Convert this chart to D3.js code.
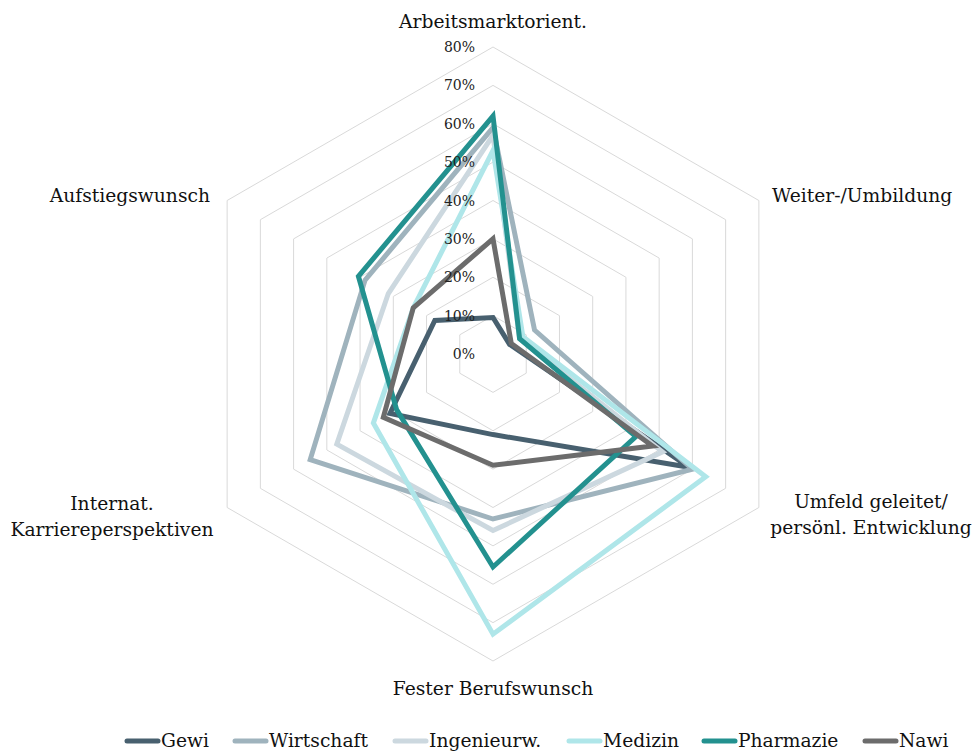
<!DOCTYPE html>
<meta charset="utf-8">
<title>Radar</title>
<style>
  body { margin: 0; background: #fff; }
  svg { display: block; font-family: "DejaVu Serif", serif; }
  .ring { fill: none; stroke: #d9d9d9; stroke-width: 1; }
  .tick { font-size: 14px; fill: #222; }
  .cat { font-size: 18.7px; fill: #111; }
  .leg { font-size: 18.7px; fill: #111; }
</style>
<body>
<svg id="chart" width="976" height="754"></svg>
<script src="https://d3js.org/d3.v7.min.js"></script>
<script>
// axes, clockwise from top
var categories = ["Arbeitsmarktorient.", "Weiter-/Umbildung", "Umfeld geleitet/\npersönl. Entwicklung",
                  "Fester Berufswunsch", "Internat.\nKarriereperspektiven", "Aufstiegswunsch"];
var tickLabels = ["0%", "10%", "20%", "30%", "40%", "50%", "60%", "70%", "80%"];
var seriesNames = ["Gewi", "Wirtschaft", "Ingenieurw.", "Medizin", "Pharmazie", "Nawi"];
// values in percent
var gewi       = [9.5, 5, 59, 21, 31, 17.5];
var wirtschaft = [59, 12.5, 60, 43, 55, 38.5];
var ingenieurw = [57, 8, 51, 46, 47, 31.5];
var medizin    = [53, 9, 64, 73, 36, 24];
var pharmazie  = [62, 8, 43, 55.5, 29, 40.5];
var nawi       = [30, 5.5, 48, 29, 33, 24];

var colors = ["#48606f", "#9fb3bd", "#ccd8df", "#afe6e9", "#23918f", "#6c6c6c"];
var allSeries = [gewi, wirtschaft, ingenieurw, medizin, pharmazie, nawi];

var svg = d3.select("#chart");
var cx = 493, cy = 354;

var r = d3.scaleLinear().domain([0, 80]).range([0, 307]);
var angle = d3.scaleLinear().domain([0, categories.length]).range([0, 2 * Math.PI]);

function pt(i, v) {
  var a = angle(i);
  return [cx + r(v) * Math.sin(a), cy - r(v) * Math.cos(a)];
}

var g = svg.append("g");

// grid rings
var ringVals = d3.range(10, 81, 10);
g.selectAll(".ring")
  .data(ringVals)
  .enter().append("polygon")
    .attr("class", "ring")
    .attr("points", function(v) {
      return categories.map(function(c, i) { return pt(i, v).join(","); }).join(" ");
    });

// series
var line = d3.line().curve(d3.curveLinearClosed);
g.selectAll(".series")
  .data(allSeries)
  .enter().append("path")
    .attr("class", "series")
    .attr("d", function(d) { return line(d.map(function(v, i) { return pt(i, v); })); })
    .attr("fill", "none")
    .attr("stroke", function(d, i) { return colors[i]; })
    .attr("stroke-width", 5)
    .attr("stroke-linejoin", "miter");

// tick labels
g.selectAll(".tick")
  .data(tickLabels)
  .enter().append("text")
    .attr("class", "tick")
    .attr("x", cx - 18)
    .attr("y", function(d, i) { return cy - r(i * 10) + 5; })
    .attr("text-anchor", "end")
    .text(function(d) { return d; });

// category labels
var catPos = [
  {x: 493, y: 28, anchor: "middle"},
  {x: 772, y: 202, anchor: "start"},
  {x: 871, y: 508, anchor: "middle"},
  {x: 493, y: 695, anchor: "middle"},
  {x: 112, y: 510, anchor: "middle"},
  {x: 210, y: 202, anchor: "end"}
];
categories.forEach(function(c, i) {
  var t = svg.append("text")
    .attr("class", "cat")
    .attr("x", catPos[i].x)
    .attr("y", catPos[i].y)
    .attr("text-anchor", catPos[i].anchor);
  c.split("\n").forEach(function(s, j) {
    t.append("tspan").attr("x", catPos[i].x).attr("dy", j ? 26 : 0).text(s);
  });
});

// legend
var legX = [125, 233, 393, 567, 702, 863];
var leg = svg.append("g").attr("transform", "translate(0,741)");
seriesNames.forEach(function(n, i) {
  leg.append("line")
    .attr("x1", legX[i] + 2).attr("x2", legX[i] + 33)
    .attr("y1", 0).attr("y2", 0)
    .attr("stroke", colors[i])
    .attr("stroke-width", 5)
    .attr("stroke-linecap", "round");
  leg.append("text")
    .attr("class", "leg")
    .attr("x", legX[i] + 36)
    .attr("y", 6)
    .text(n);
});
</script>
</body>
